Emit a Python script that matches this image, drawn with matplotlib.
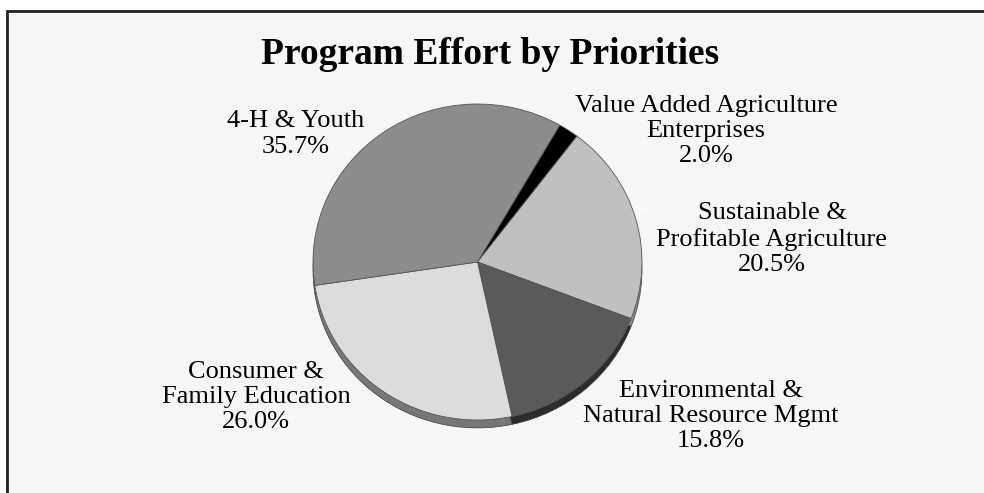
import matplotlib
matplotlib.use("Agg")
import numpy as np
from matplotlib import pyplot as plt
from matplotlib.patches import Rectangle

# data, in drawing order (clockwise from the top right)
categories = ["Value Added Agriculture\nEnterprises",
              "Sustainable &\nProfitable Agriculture",
              "Environmental &\nNatural Resource Mgmt",
              "Consumer &\nFamily Education",
              "4-H & Youth"]
shares = [2.0, 20.5, 15.8, 26.0, 35.7]

top_colors = ["#000000", "#c0c0c0", "#5a5a5a", "#dcdcdc", "#8c8c8c"]
side_colors = ["#000000", "#8a8a8a", "#2c2c2c", "#777777", "#5e5e5e"]

# label centres in pixels (x, y from top)
label_pos = [(706, 131), (772, 239), (711, 416), (256, 397), (296, 134)]

W, H = 984, 493
fig = plt.figure(figsize=(W / 100, H / 100), dpi=100)
fig.patch.set_facecolor("white")

# background axes in pixel coordinates
bg = fig.add_axes((0, 0, 1, 1), zorder=0)
bg.set_xlim(0, W)
bg.set_ylim(H, 0)
bg.axis("off")
bg.add_patch(Rectangle((7, 11), W + 50, H + 50, facecolor="#f6f6f6",
                       edgecolor="#222222", linewidth=2))

bg.text(490, 55, "Program Effort by Priorities", ha="center", va="center",
        fontsize=27, fontweight="bold", family="Liberation Serif")

for name, val, (x, y) in zip(categories, shares, label_pos):
    bg.text(x, y, f"{name}\n{val:.1f}%", ha="center", va="center",
            fontsize=19, family="Liberation Serif", linespacing=1.2,
            multialignment="center")

# faint stray label seen in the original
bg.text(641, 212, "20%", ha="center", va="center", fontsize=8,
        family="Liberation Serif", color="white")

# pie axes: slightly squashed ellipse
cx, cy = 477.5, 262
rx, ry = 164.5, 158
lim = 1.2
aw, ah = 2 * lim * rx, 2 * lim * ry
ax = fig.add_axes(((cx - aw / 2) / W, (H - cy - ah / 2) / H, aw / W, ah / H),
                  zorder=1)
ax.patch.set_alpha(0)

start = 60
depth = 0.05
ax.pie(shares, colors=side_colors, startangle=start, counterclock=False,
       center=(0, -depth), radius=1,
       wedgeprops=dict(edgecolor="#3a3a3a", linewidth=0.5))
ax.pie(shares, colors=top_colors, startangle=start, counterclock=False,
       center=(0, 0), radius=1,
       wedgeprops=dict(edgecolor="#555555", linewidth=0.6))
ax.set_aspect("auto")
ax.set_xlim(-lim, lim)
ax.set_ylim(-lim, lim)
ax.axis("off")

fig.savefig("out.png", dpi=100, facecolor="white")
